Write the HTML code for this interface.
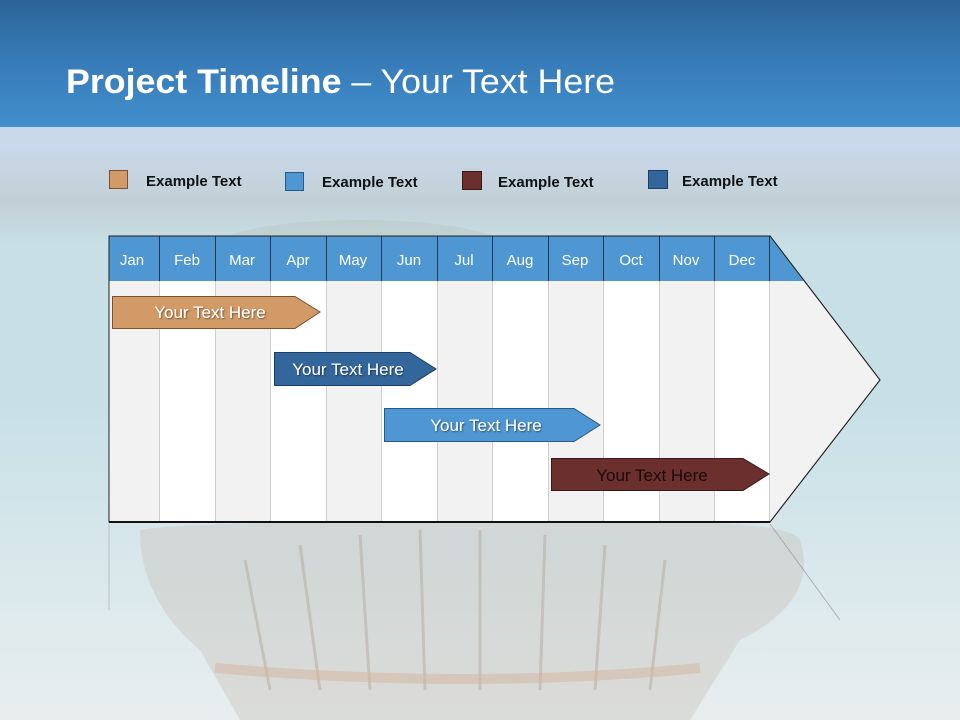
<!DOCTYPE html>
<html><head><meta charset="utf-8"><style>
html,body{margin:0;padding:0;width:960px;height:720px;overflow:hidden}
svg{display:block}
</style></head><body>
<svg width="960" height="720" viewBox="0 0 960 720" xmlns="http://www.w3.org/2000/svg" font-family="Liberation Sans, sans-serif">
<defs>
<linearGradient id="top" x1="0" y1="0" x2="0" y2="1">
<stop offset="0" stop-color="#2c6497"/><stop offset="0.5" stop-color="#377cb8"/><stop offset="1" stop-color="#418fcd"/>
</linearGradient>
<linearGradient id="low" x1="0" y1="0" x2="0" y2="1">
<stop offset="0" stop-color="#8fb6dc"/>
<stop offset="0.06" stop-color="#b9cfe6"/>
<stop offset="0.2" stop-color="#cad9ea"/>
<stop offset="0.28" stop-color="#c2d0d6"/>
<stop offset="0.34" stop-color="#c8dfe6"/>
<stop offset="0.55" stop-color="#c6e0e6"/>
<stop offset="0.8" stop-color="#dae8ec"/>
<stop offset="1" stop-color="#e8eeee"/>
</linearGradient>
<filter id="ts"><feDropShadow dx="1" dy="1" stdDeviation="0.8" flood-color="#000" flood-opacity="0.45"/></filter>
</defs>
<rect x="0" y="0" width="960" height="720" fill="url(#low)"/>
<rect x="0" y="0" width="960" height="127" fill="url(#top)"/>
<ellipse cx="360" cy="245" rx="140" ry="25" fill="#b9c7c4" opacity="0.5"/>
<path d="M140,530 Q160,525 300,522 L620,522 Q790,520 800,540 Q820,600 740,640 L690,720 L240,720 L200,650 Q140,600 140,530 Z" fill="#c9c0b8" opacity="0.4"/>
<g stroke="#a89888" stroke-width="3" opacity="0.35">
<line x1="245" y1="560" x2="270" y2="690"/><line x1="300" y1="545" x2="320" y2="690"/>
<line x1="360" y1="535" x2="370" y2="690"/><line x1="420" y1="530" x2="425" y2="690"/>
<line x1="480" y1="530" x2="480" y2="690"/><line x1="545" y1="535" x2="540" y2="690"/>
<line x1="605" y1="545" x2="595" y2="690"/><line x1="665" y1="560" x2="650" y2="690"/>
</g>
<path d="M215,668 Q470,690 700,668" stroke="#d2b69c" stroke-width="10" fill="none" opacity="0.5"/>
<line x1="109" y1="524" x2="109" y2="610" stroke="#999" stroke-width="1" opacity="0.5"/>
<line x1="770" y1="524" x2="840" y2="620" stroke="#777" stroke-width="1" opacity="0.5"/>
<text x="66" y="93" font-family="Liberation Sans, sans-serif" font-size="34" fill="#fff" textLength="549" lengthAdjust="spacingAndGlyphs"><tspan font-weight="bold">Project Timeline</tspan> – Your Text Here</text>
<g font-size="15" font-weight="bold" fill="#111">
<rect x="109.5" y="170.5" width="18" height="18" fill="#d19a66" stroke="#7a5030"/>
<text x="146" y="186">Example Text</text>
<rect x="285.5" y="172.5" width="18" height="18" fill="#4f97d2" stroke="#285a85"/>
<text x="322" y="187">Example Text</text>
<rect x="462.5" y="171.5" width="19" height="18" fill="#6b2f2e" stroke="#3a1816"/>
<text x="498" y="187">Example Text</text>
<rect x="648.5" y="170.5" width="19" height="18" fill="#33679c" stroke="#1d3e60"/>
<text x="682" y="186">Example Text</text>
</g>
<path d="M109,236 L770,236 L880,380 L770,522 L109,522 Z" fill="#f2f2f2" stroke="#222" stroke-width="1"/>
<g fill="#fff">
<rect x="159" y="281" width="56" height="240"/>
<rect x="270" y="281" width="56" height="240"/>
<rect x="381" y="281" width="56" height="240"/>
<rect x="492" y="281" width="56" height="240"/>
<rect x="603" y="281" width="56" height="240"/>
<rect x="714" y="281" width="56" height="240"/>
</g>
<g stroke="#cfcfcf" stroke-width="1">
<line x1="159.5" y1="281" x2="159.5" y2="521"/><line x1="215.5" y1="281" x2="215.5" y2="521"/>
<line x1="270.5" y1="281" x2="270.5" y2="521"/><line x1="326.5" y1="281" x2="326.5" y2="521"/>
<line x1="381.5" y1="281" x2="381.5" y2="521"/><line x1="437.5" y1="281" x2="437.5" y2="521"/>
<line x1="492.5" y1="281" x2="492.5" y2="521"/><line x1="548.5" y1="281" x2="548.5" y2="521"/>
<line x1="603.5" y1="281" x2="603.5" y2="521"/><line x1="659.5" y1="281" x2="659.5" y2="521"/>
<line x1="714.5" y1="281" x2="714.5" y2="521"/><line x1="769.5" y1="281" x2="769.5" y2="521"/>
</g>
<path d="M109,236 L770,236 L804,281 L109,281 Z" fill="#4f97d2"/>
<g stroke="#1f3a55" stroke-width="1">
<line x1="159.5" y1="236" x2="159.5" y2="281"/><line x1="215.5" y1="236" x2="215.5" y2="281"/>
<line x1="270.5" y1="236" x2="270.5" y2="281"/><line x1="326.5" y1="236" x2="326.5" y2="281"/>
<line x1="381.5" y1="236" x2="381.5" y2="281"/><line x1="437.5" y1="236" x2="437.5" y2="281"/>
<line x1="492.5" y1="236" x2="492.5" y2="281"/><line x1="548.5" y1="236" x2="548.5" y2="281"/>
<line x1="603.5" y1="236" x2="603.5" y2="281"/><line x1="659.5" y1="236" x2="659.5" y2="281"/>
<line x1="714.5" y1="236" x2="714.5" y2="281"/><line x1="769.5" y1="236" x2="769.5" y2="281"/>
</g>
<path d="M109,236 L770,236 L880,380 L770,522 L109,522 Z" fill="none" stroke="#222" stroke-width="1"/>
<line x1="109" y1="522" x2="770" y2="522" stroke="#111" stroke-width="2"/>
<g font-size="15" fill="#fff" text-anchor="middle">
<text x="132" y="265">Jan</text><text x="187" y="265">Feb</text><text x="242" y="265">Mar</text>
<text x="298" y="265">Apr</text><text x="353" y="265">May</text><text x="409" y="265">Jun</text>
<text x="464" y="265">Jul</text><text x="520" y="265">Aug</text><text x="575" y="265">Sep</text>
<text x="631" y="265">Oct</text><text x="686" y="265">Nov</text><text x="742" y="265">Dec</text>
</g>
<path d="M112.5,296.5 L295,296.5 L320,312 L295,328.5 L112.5,328.5 Z" fill="#d19a66" stroke="#7a5030"/>
<text x="210" y="318" font-size="17" fill="#fff" text-anchor="middle" filter="url(#ts)">Your  Text Here</text>
<path d="M274.5,352.5 L410,352.5 L436,369 L410,385.5 L274.5,385.5 Z" fill="#33679c" stroke="#1d3e60"/>
<text x="348" y="375" font-size="17" fill="#fff" text-anchor="middle" filter="url(#ts)">Your  Text Here</text>
<path d="M384.5,408.5 L574,408.5 L600,425 L574,441.5 L384.5,441.5 Z" fill="#4f97d2" stroke="#285a85"/>
<text x="486" y="431" font-size="17" fill="#fff" text-anchor="middle" filter="url(#ts)">Your  Text Here</text>
<path d="M551.5,458.5 L743,458.5 L769,474 L743,490.5 L551.5,490.5 Z" fill="#6b2f2e" stroke="#3a1816"/>
<text x="652" y="481" font-size="17" fill="#1a0a0a" text-anchor="middle">Your  Text Here</text>
</svg>
</body></html>
